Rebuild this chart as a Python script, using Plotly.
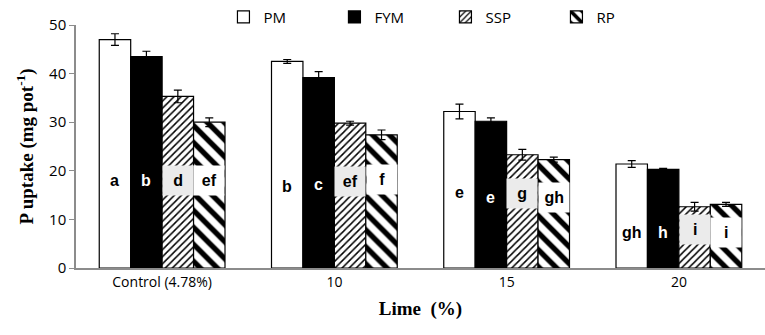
import plotly.graph_objects as go

categories = ["Control (4.78%)", "10", "15", "20"]
series_names = ["PM", "FYM", "SSP", "RP"]
pm = [47.0, 42.5, 32.2, 21.4]
fym = [43.5, 39.2, 30.2, 20.3]
ssp = [35.3, 29.8, 23.3, 12.6]
rp = [30.0, 27.4, 22.3, 13.1]
pm_err = [1.2, 0.4, 1.5, 0.7]
fym_err = [1.1, 1.2, 0.7, 0.2]
ssp_err = [1.3, 0.4, 1.1, 0.9]
rp_err = [0.9, 1.0, 0.5, 0.4]
pm_letters = ["a", "b", "e", "gh"]
fym_letters = ["b", "c", "e", "h"]
ssp_letters = ["d", "ef", "g", "i"]
rp_letters = ["ef", "f", "gh", "i"]
# heights (in data units) where the letters sit
pm_lab_y = [18.0, 16.8, 15.6, 7.4]
fym_lab_y = [18.0, 17.2, 14.6, 7.4]
ssp_lab_y = [18.0, 17.7, 15.4, 8.0]
rp_lab_y = [18.0, 18.2, 14.6, 7.4]

values = [pm, fym, ssp, rp]
errors = [pm_err, fym_err, ssp_err, rp_err]
letters = [pm_letters, fym_letters, ssp_letters, rp_letters]
lab_y = [pm_lab_y, fym_lab_y, ssp_lab_y, rp_lab_y]

styles = [
    dict(color="white", line=dict(color="black", width=1.2)),
    dict(color="black", line=dict(color="black", width=1.2)),
    dict(color="white", line=dict(color="black", width=1.2),
         pattern=dict(shape="/", fgcolor="black", bgcolor="white", size=5, solidity=0.3, fillmode="replace")),
    dict(color="white", line=dict(color="black", width=1.2),
         pattern=dict(shape="\\", fgcolor="black", bgcolor="white", size=12, solidity=0.45, fillmode="replace")),
]

fig = go.Figure()
for name, v, e, st in zip(series_names, values, errors, styles):
    fig.add_trace(go.Bar(
        x=categories, y=v, name=name, marker=st,
        error_y=dict(type="data", array=e, color="black", thickness=1.2, width=4),
    ))

L, R, T, B = 76, 0, 25, 67
W, H = 765, 335
bargap = 0.27
plot_w = W - L - R
bar_w = plot_w / len(categories) * (1 - bargap) / len(series_names)

text_colors = ["black", "white", "black", "black"]
box_colors = [None, None, "#ebebeb", "white"]
annotations = []
for i in range(len(series_names)):
    shift = (i - 1.5) * bar_w
    for j in range(len(categories)):
        a = dict(x=j, y=lab_y[i][j], xref="x", yref="y", text="<b>%s</b>" % letters[i][j],
                 showarrow=False, xshift=shift,
                 font=dict(family="Liberation Sans", size=16, color=text_colors[i]))
        if box_colors[i]:
            a.update(bgcolor=box_colors[i], width=bar_w - 3, height=27)
        annotations.append(a)

fig.update_layout(
    width=W, height=H,
    margin=dict(l=L, r=R, t=T, b=B),
    paper_bgcolor="white", plot_bgcolor="white",
    barmode="group", bargap=bargap, bargroupgap=0,
    font=dict(family="Open Sans", size=14, color="black"),
    showlegend=True,
    legend=dict(orientation="h", x=0.214, y=1.1, xanchor="left", yanchor="top",
                entrywidth=66, entrywidthmode="pixels", font=dict(size=15), traceorder="normal",
                bgcolor="rgba(0,0,0,0)"),
    annotations=annotations,
    xaxis=dict(type="category", range=[-0.5, len(categories) - 0.5], showline=True,
               linecolor="#8c8c8c", linewidth=1.5, tickangle=0,
               ticks="", tickfont=dict(size=14, family="Open Sans"),
               title=dict(text="<b>Lime  (%)</b>", font=dict(family="Liberation Serif", size=19), standoff=12)),
    yaxis=dict(range=[0, 50], dtick=10, showline=True, linecolor="#8c8c8c", linewidth=1.5,
               ticks="outside", ticklen=5, tickcolor="#8c8c8c", showgrid=False, zeroline=False,
               tickfont=dict(size=15, family="Open Sans"),
               title=dict(text="<b>P uptake (mg pot<sup>-1</sup>)</b>",
                          font=dict(family="Liberation Serif", size=19), standoff=10)),
)

fig.write_html("out.html", config={"displayModeBar": False},
               post_script="document.body.style.margin='0';document.body.style.overflow='hidden';")
